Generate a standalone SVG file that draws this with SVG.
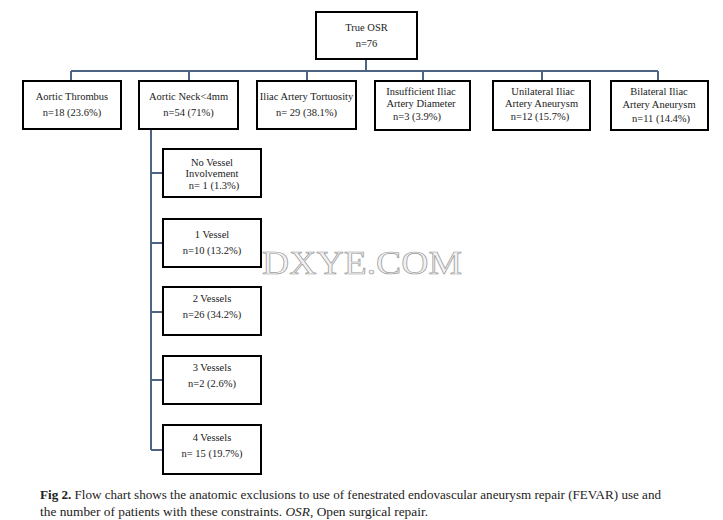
<svg xmlns="http://www.w3.org/2000/svg" width="723" height="520" viewBox="0 0 723 520">
<style>
.box{fill:#fff;stroke:#000;stroke-width:2}
.t{font-family:"Liberation Serif","Times New Roman",serif;font-size:10.5px;fill:#222;text-anchor:middle}
.c{fill:none;stroke:#4d6482;stroke-width:2}
.cap{font-family:"Liberation Serif","Times New Roman",serif;font-size:11.5px;fill:#222}
</style>
<rect width="723" height="520" fill="#fff"/>
<g id="connectors">
<path class="c" d="M366 59V71M71 71H658M71 71V81M189 71V81M307 71V81M423 71V81M542 71V81M658 71V81"/>
<path class="c" d="M151 129V450M151 173H163M151 243H163M151 312H163M151 380H163M151 450H163"/>
</g>
<g id="n_true_osr"><rect class="box" x="316" y="12" width="101" height="47"/><text class="t" x="366.5" y="31">True OSR</text><text class="t" x="366.5" y="47">n=76</text></g>
<g id="n_thrombus"><rect class="box" x="23" y="81" width="98" height="48"/><text class="t" x="72" y="100">Aortic Thrombus</text><text class="t" x="72" y="116">n=18 (23.6%)</text></g>
<g id="n_neck"><rect class="box" x="139" y="81" width="99" height="48"/><text class="t" x="188.5" y="100">Aortic Neck&lt;4mm</text><text class="t" x="188.5" y="116">n=54 (71%)</text></g>
<g id="n_tortuosity"><rect class="box" x="257" y="81" width="99" height="48"/><text class="t" x="306.5" y="100">Iliac Artery Tortuosity</text><text class="t" x="306.5" y="116">n= 29 (38.1%)</text></g>
<g id="n_diameter"><rect class="box" x="375" y="81" width="95" height="49"/><text class="t" x="421" y="95">Insufficient Iliac</text><text class="t" x="421" y="107">Artery Diameter</text><text class="t" x="417" y="120">n=3 (3.9%)</text></g>
<g id="n_unilateral"><rect class="box" x="493" y="81" width="97" height="49"/><text class="t" x="543" y="95">Unilateral Iliac</text><text class="t" x="541.5" y="107">Artery Aneurysm</text><text class="t" x="540" y="120">n=12 (15.7%)</text></g>
<g id="n_bilateral"><rect class="box" x="611" y="81" width="97" height="49"/><text class="t" x="659" y="95">Bilateral Iliac</text><text class="t" x="659" y="108">Artery Aneurysm</text><text class="t" x="661" y="122">n=11 (14.4%)</text></g>
<g id="n_novessel"><rect class="box" x="163" y="149" width="98" height="48"/><text class="t" x="212" y="166">No Vessel</text><text class="t" x="212" y="177">Involvement</text><text class="t" x="214" y="189">n= 1 (1.3%)</text></g>
<g id="n_1vessel"><rect class="box" x="163" y="219" width="98" height="48"/><text class="t" x="212" y="238">1 Vessel</text><text class="t" x="212" y="254">n=10 (13.2%)</text></g>
<g id="n_2vessels"><rect class="box" x="163" y="287" width="98" height="48"/><text class="t" x="212" y="302">2 Vessels</text><text class="t" x="212" y="318">n=26 (34.2%)</text></g>
<g id="n_3vessels"><rect class="box" x="163" y="356" width="98" height="48"/><text class="t" x="212" y="371">3 Vessels</text><text class="t" x="212" y="387">n=2 (2.6%)</text></g>
<g id="n_4vessels"><rect class="box" x="163" y="425" width="98" height="49"/><text class="t" x="212" y="441">4 Vessels</text><text class="t" x="212" y="457">n= 15 (19.7%)</text></g>
<text x="262" y="274" font-family="Liberation Serif,serif" font-size="34" fill="#f2f2f2" stroke="#9a9a9a" stroke-width="0.7" textLength="200" lengthAdjust="spacingAndGlyphs">DXYE.COM</text>
<text class="cap" x="40" y="499" textLength="621" lengthAdjust="spacingAndGlyphs"><tspan font-weight="bold">Fig 2.</tspan>  Flow chart shows the anatomic exclusions to use of fenestrated endovascular aneurysm repair (FEVAR) use and</text>
<text class="cap" x="40" y="516" textLength="388" lengthAdjust="spacingAndGlyphs">the number of patients with these constraints. <tspan font-style="italic">OSR</tspan>, Open surgical repair.</text>
</svg>
